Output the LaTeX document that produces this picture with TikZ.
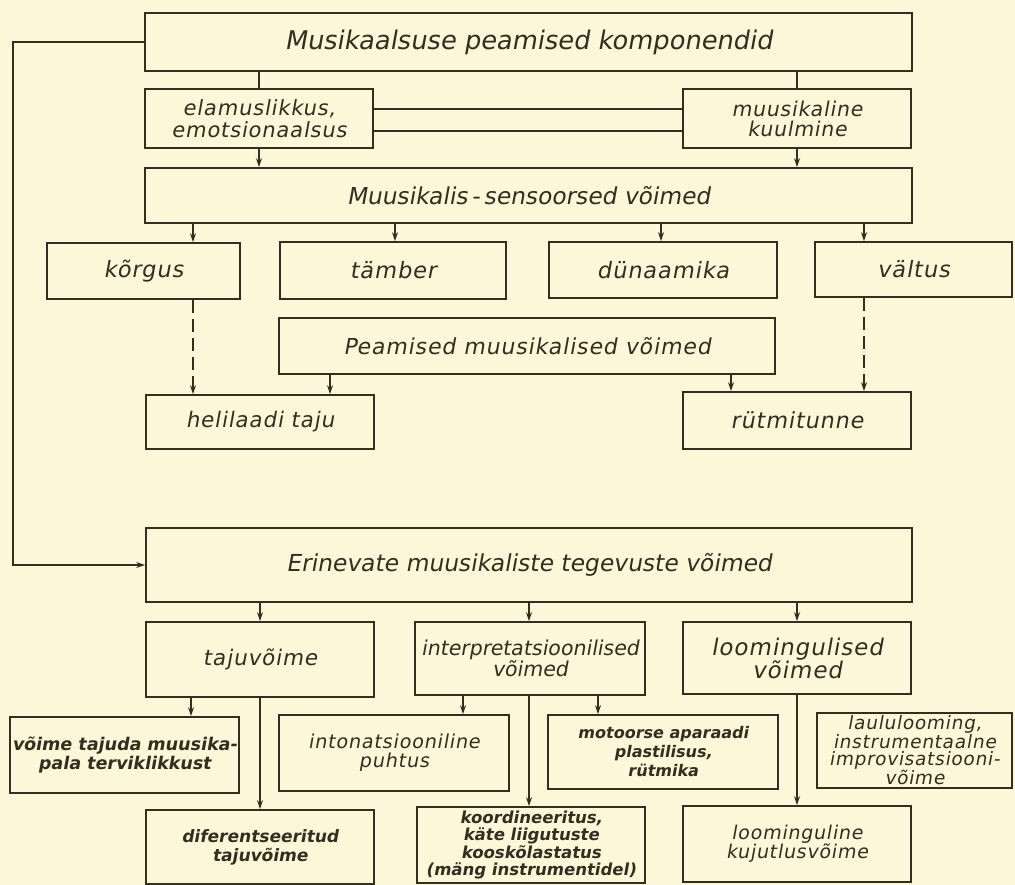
\documentclass[tikz,border=0pt]{standalone}
\usepackage{fontspec}
\usetikzlibrary{arrows.meta}
\newfontfamily\ltA{DejaVu Sans}[FakeSlant=0.18]
\newfontfamily\ltB{DejaVu Sans}[FakeSlant=0.18,LetterSpace=4]
\definecolor{bg}{RGB}{252,247,216}
\definecolor{ink}{RGB}{52,46,32}
\begin{document}
\begin{tikzpicture}[x=1pt,y=-1pt,
  box/.style={draw=ink,line width=1.7pt,align=center,inner sep=0pt,text=ink},
  fA/.style 2 args={font=\ltA\fontsize{#1}{#2}\selectfont},
  fB/.style 2 args={font=\ltB\fontsize{#1}{#2}\selectfont},
  fC/.style 2 args={font=\ltA\bfseries\fontsize{#1}{#2}\selectfont},
  ln/.style={draw=ink,line width=1.6pt},
  arr/.style={ln,-{Stealth[length=9pt,width=6pt]}},
  darr/.style={arr,dash pattern=on 13pt off 6pt}]
\fill[bg] (0,0) rectangle (1015,885);
\useasboundingbox (0,0) rectangle (1015,885);

% nodes
\node[box,fA={25.7}{28},minimum width=767pt,minimum height=58pt] (top) at (528.5,42) {Musikaalsuse peamised komponendid};
\node[box,fB={21}{22},minimum width=228pt,minimum height=59pt] (elam) at (259,118.5) {elamuslikkus,\\emotsionaalsus};
\node[box,fB={20.4}{20},minimum width=228pt,minimum height=59pt] (kuul) at (797,118.5) {muusikaline\\kuulmine};
\node[box,fA={23.3}{25},minimum width=767pt,minimum height=55pt] (sens) at (528.5,195.5) {Muusikalis\,-\,sensoorsed võimed};

\node[box,fB={22.5}{23},minimum width=193pt,minimum height=56pt] (korgus) at (143.5,271) {kõrgus};
\node[box,fB={22.5}{23},minimum width=226pt,minimum height=57pt] (tamber) at (393,270.5) {tämber};
\node[box,fB={22.5}{23},minimum width=228pt,minimum height=56pt] (dun) at (663,270) {dünaamika};
\node[box,fB={22.5}{23},minimum width=197pt,minimum height=55pt] (valtus) at (913.5,269.5) {vältus};

\node[box,fB={22}{23},minimum width=496pt,minimum height=56pt] (peam) at (527,346) {Peamised muusikalised võimed};
\node[box,fB={21.4}{22},minimum width=228pt,minimum height=54pt] (heli) at (260,422) {helilaadi taju};
\node[box,fB={22.3}{23},minimum width=228pt,minimum height=57pt] (ryt) at (797,420.5) {rütmitunne};

\node[box,fA={23.4}{25},minimum width=766pt,minimum height=74pt] (erin) at (529,565) {Erinevate muusikaliste tegevuste võimed};
\node[box,fB={21.5}{22},minimum width=228pt,minimum height=75pt] (taju) at (260,659.5) {tajuvõime};
\node[box,fA={20.5}{21},minimum width=230pt,minimum height=73pt] (interp) at (530,658.5) {interpretatsioonilised\\võimed};
\node[box,fB={23}{23},minimum width=228pt,minimum height=72pt] (loom) at (797,658) {loomingulised\\võimed};

\node[box,fC={17.5}{18.5},minimum width=229pt,minimum height=76pt] (vtaj) at (124.5,755) {võime tajuda muusika-\\pala terviklikkust};
\node[box,fB={19.2}{19},minimum width=230pt,minimum height=76pt] (inton) at (394,753) {intonatsiooniline\\puhtus};
\node[box,fC={16}{19},minimum width=230pt,minimum height=74pt] (motor) at (663,752) {motoorse aparaadi\\plastilisus,\\rütmika};
\node[box,fB={18.5}{17},minimum width=195pt,minimum height=75pt] (laulu) at (914.5,750.5) {laululooming,\\instrumentaalne\\improvisatsiooni-\\võime};

\node[box,fC={17}{19},minimum width=228pt,minimum height=74pt] (difer) at (260,847) {diferentseeritud\\tajuvõime};
\node[box,fC={16.5}{17.5},minimum width=228pt,minimum height=76pt] (koord) at (531,845) {koordineeritus,\\käte liigutuste\\kooskõlastatus\\(mäng instrumentidel)};
\node[box,fB={19}{19},minimum width=228pt,minimum height=76pt] (loomk) at (797,844) {loominguline\\kujutlusvõime};

% x positions for connectors
\coordinate (xa) at (193,0);
\coordinate (xb) at (395,0);
\coordinate (xc) at (661,0);
\coordinate (xd) at (864,0);
\coordinate (xe) at (330,0);
\coordinate (xf) at (731,0);
\coordinate (xg) at (191,0);
\coordinate (xh) at (463,0);
\coordinate (xi) at (598,0);
\coordinate (xj) at (529,0);
\coordinate (xl) at (13,0);

% connectors
\draw[ln] (top.south -| elam.north) -- (elam.north);
\draw[ln] (top.south -| kuul.north) -- (kuul.north);
\draw[ln] ([yshift=9.5pt]elam.east) -- ([yshift=9.5pt]kuul.west);
\draw[ln] ([yshift=-12.5pt]elam.east) -- ([yshift=-12.5pt]kuul.west);
\draw[arr] (elam.south) -- (elam.south |- sens.north);
\draw[arr] (kuul.south) -- (kuul.south |- sens.north);

\draw[arr] (sens.south -| xa) -- (korgus.north -| xa);
\draw[arr] (sens.south -| xb) -- (tamber.north -| xb);
\draw[arr] (sens.south -| xc) -- (dun.north -| xc);
\draw[arr] (sens.south -| xd) -- (valtus.north -| xd);

\draw[darr] (korgus.south -| xa) -- (heli.north -| xa);
\draw[darr] (valtus.south -| xd) -- (ryt.north -| xd);
\draw[arr] (peam.south -| xe) -- (heli.north -| xe);
\draw[arr] (peam.south -| xf) -- (ryt.north -| xf);

\draw[arr] (top.west) -- (top.west -| xl) |- (erin.west);

\draw[arr] (erin.south -| taju.north) -- (taju.north);
\draw[arr] (erin.south -| xj) -- (interp.north -| xj);
\draw[arr] (erin.south -| loom.north) -- (loom.north);

\draw[arr] (taju.south -| xg) -- (vtaj.north -| xg);
\draw[arr] (taju.south) -- (difer.north);
\draw[arr] (interp.south -| xh) -- (inton.north -| xh);
\draw[arr] (interp.south -| xj) -- (koord.north -| xj);
\draw[arr] (interp.south -| xi) -- (motor.north -| xi);
\draw[arr] (loom.south) -- (loomk.north);
\end{tikzpicture}
\end{document}
